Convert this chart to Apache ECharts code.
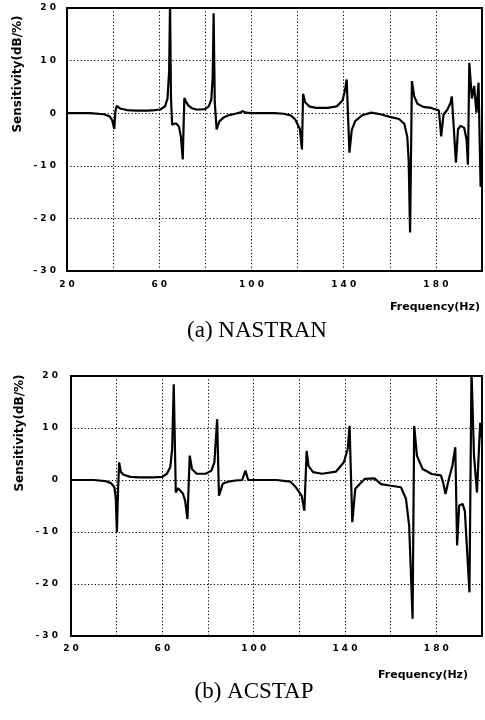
<!DOCTYPE html>
<html>
<head>
<meta charset="utf-8">
<script src="https://cdn.jsdelivr.net/npm/echarts@6/dist/echarts.min.js"></script>
<style>
  html, body { margin: 0; padding: 0; background: #fff; }
  #chart { width: 485px; height: 720px; }
</style>
</head>
<body>
<div id="chart"></div>
<script>
// Sensitivity spectra: (a) NASTRAN, (b) ACSTAP
const freqA = [
  20, 30, 36, 38.5, 39.6, 40.5, 41.0, 41.6, 43, 46,
  50, 55, 58, 60.5, 62.5, 63.6, 64.3, 64.7, 65.1, 65.6,
  66.5, 67.5, 68.6, 69.4, 70.2, 70.9, 71.6, 72.6, 74, 76,
  78, 80, 81.5, 82.6, 83.2, 83.6, 84.1, 84.9, 86, 88,
  90, 93, 95, 96.3, 97.5, 100, 105, 110, 114, 117,
  119, 121.0, 121.9, 122.4, 123.3, 125, 128, 133, 137, 139.5,
  140.5, 141.3, 142.5, 143.5, 145, 148, 152, 156, 160, 164,
  166.3, 167.6, 168.2, 168.8, 169.6, 170.6, 172, 174.5, 178, 181.3,
  182.3, 183.3, 185, 186.4, 186.9, 188.7, 189.6, 190.8, 192.3, 193.3,
  193.9, 194.5, 195.6, 196.6, 197.6, 198.5, 199.4, 200
];
const sensA = [
  0, 0, -0.2, -0.6, -1.3, -3.0, 0.4, 1.4, 0.9, 0.6,
  0.5, 0.5, 0.6, 0.7, 1.3, 2.8, 8, 21, 3, -2.2,
  -2.0, -2.0, -2.6, -4.5, -8.8, 2.9, 2.2, 1.5, 1.0, 0.7,
  0.7, 0.8, 1.3, 2.6, 7, 19, 2, -3.1, -1.6, -0.8,
  -0.4, -0.1, 0.1, 0.4, 0.1, 0, 0, 0, -0.1, -0.4,
  -1.2, -3.0, -6.9, 3.7, 2.1, 1.3, 1.0, 1.0, 1.3, 2.4,
  4.2, 6.4, -7.5, -3.2, -1.5, -0.4, 0.1, -0.2, -0.7, -1.1,
  -2.0, -4.5, -9, -22.7, 6.1, 3.2, 1.8, 1.2, 1.0, 0.5,
  -4.4, -0.3, 0.7, 2.0, 3.2, -9.4, -3.0, -2.4, -2.8, -5,
  -9.8, 9.6, 2.8, 5.2, 0.1, 5.8, -14, -13
];

const freqB = [
  20, 30, 35, 37.5, 39, 39.6, 40.1, 40.6, 41.1, 41.8,
  43, 46, 50, 56, 60, 62, 63.5, 64.3, 65.0, 65.9,
  66.8, 67.8, 69, 70, 71, 72, 73, 75, 79, 81.5,
  82.8, 84, 84.8, 86.5, 89, 92, 95, 96.4, 97.6, 100,
  110, 116, 118.5, 121, 122.2, 123.2, 124, 126, 130, 136,
  139.5, 141.2, 142, 143.2, 144.5, 148.6, 152.9, 155.8, 160.1, 164.5,
  166.7, 168.1, 169.6, 170.3, 171.5, 174, 178, 182, 183, 184,
  185.5, 187, 188.3, 189.1, 190, 191.5, 192.5, 194.5, 195.4, 196.5,
  197.8, 199.2, 200
];
const sensB = [
  0, 0, -0.2, -0.6, -1.4, -3.5, -10, -2, 3.4, 1.6,
  1.0, 0.6, 0.5, 0.5, 0.6, 1.2, 2.5, 6, 18.4, -2.4,
  -1.6, -2.0, -2.6, -4, -7.5, 4.7, 2.1, 1.2, 1.2, 1.8,
  3.4, 11.7, -3.0, -0.7, -0.3, -0.1, 0, 1.8, 0, 0,
  0, -0.3, -1.4, -3, -5.9, 5.6, 2.7, 1.5, 1.2, 1.6,
  3.4, 6, 10.4, -8.1, -1.7, 0.2, 0.3, -0.8, -1.1, -1.4,
  -3.6, -8.8, -26.7, 10.4, 4.7, 2.1, 1.15, 0.9, -0.5, -2.7,
  0.2, 2.7, 6.3, -12.6, -4.9, -4.6, -6, -21.6, 21, 4.7,
  -2.4, 11, 8
];

const xLabelValues = [20, 60, 100, 140, 180];
const xName = 'Frequency(Hz)';
const yName = 'Sensitivity(dB/%)';
const captions = ['(a) NASTRAN', '(b) ACSTAP'];

const spaced = v => String(v).split('').join(' ');
const tickFont = { fontFamily: 'DejaVu Sans', fontWeight: 'bold', fontSize: 9, color: '#000' };
const dotted = { color: '#000', width: 1, type: [1.2, 2.2] };

function makeX(gridIndex, margin) {
  return {
    type: 'value', gridIndex, min: 20, max: 200, interval: 20,
    axisLine: { show: false }, axisTick: { show: false },
    splitLine: { show: true, lineStyle: dotted },
    axisLabel: Object.assign({}, tickFont, {
      margin,
      formatter: v => xLabelValues.includes(v) ? spaced(v) : ''
    })
  };
}
function makeY(gridIndex, margin) {
  return {
    type: 'value', gridIndex, min: -30, max: 20, interval: 10,
    axisLine: { show: false }, axisTick: { show: false },
    splitLine: { show: true, lineStyle: dotted },
    axisLabel: Object.assign({}, tickFont, { margin, formatter: v => spaced(v) })
  };
}
function makeSeries(idx, fx, sy) {
  return {
    type: 'line', xAxisIndex: idx, yAxisIndex: idx,
    data: fx.map((f, i) => [f, sy[i]]),
    showSymbol: false, smooth: false, clip: true, animation: false,
    lineStyle: { color: '#000', width: 2.2 }
  };
}
const nameFont = 'bold 12px "DejaVu Sans"';
const xNameFont = 'bold 11px "DejaVu Sans"';

const chart = echarts.init(document.getElementById('chart'), null, { renderer: 'canvas' });
chart.setOption({
  animation: false,
  backgroundColor: '#fff',
  grid: [
    { left: 67, top: 8, width: 415, height: 263, show: true, borderColor: '#000', borderWidth: 2, backgroundColor: 'transparent' },
    { left: 71, top: 376, width: 416, height: 260, show: true, borderColor: '#000', borderWidth: 2, backgroundColor: 'transparent' }
  ],
  xAxis: [makeX(0, 9), makeX(1, 8)],
  yAxis: [makeY(0, 11), makeY(1, 13)],
  series: [makeSeries(0, freqA, sensA), makeSeries(1, freqB, sensB)],
  graphic: [
    { type: 'text', x: 18, y: 74, rotation: Math.PI / 2,
      style: { text: yName, font: nameFont, fill: '#000', textAlign: 'center', textVerticalAlign: 'middle' } },
    { type: 'text', x: 20, y: 433, rotation: Math.PI / 2,
      style: { text: yName, font: nameFont, fill: '#000', textAlign: 'center', textVerticalAlign: 'middle' } },
    { type: 'text', x: 480, y: 307,
      style: { text: xName, font: xNameFont, fill: '#000', textAlign: 'right', textVerticalAlign: 'middle' } },
    { type: 'text', x: 378, y: 675,
      style: { text: xName, font: xNameFont, fill: '#000', textAlign: 'left', textVerticalAlign: 'middle' } },
    { type: 'text', x: 257, y: 331,
      style: { text: captions[0], font: '23px "Liberation Serif"', fill: '#000', textAlign: 'center', textVerticalAlign: 'middle' } },
    { type: 'text', x: 254, y: 692,
      style: { text: captions[1], font: '23px "Liberation Serif"', fill: '#000', textAlign: 'center', textVerticalAlign: 'middle' } }
  ]
});
</script>
</body>
</html>
